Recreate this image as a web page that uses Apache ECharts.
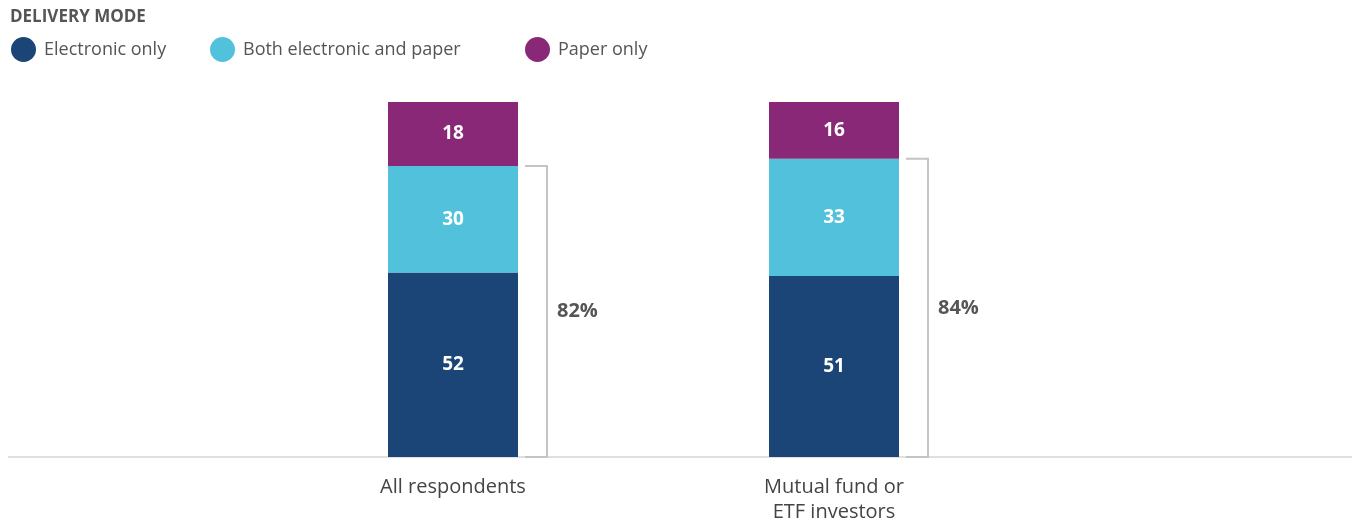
<!DOCTYPE html>
<html>
<head>
<meta charset="utf-8">
<script src="https://cdn.jsdelivr.net/npm/echarts@6/dist/echarts.min.js"></script>
<style>
  html, body { margin: 0; padding: 0; background: #fff; }
  #chart { width: 1353px; height: 523px; }
</style>
</head>
<body>
<div id="chart"></div>
<script>
var myChart = echarts.init(document.getElementById('chart'));

// data
var categories = ['All respondents', 'Mutual fund or\nETF investors'];
var electronicOnly = [52, 51];
var bothModes = [30, 33];
var paperOnly = [18, 16];
var anyElectronic = [82, 84];

var font = 'Open Sans';
var colors = ['#1b4577', '#52c1dc', '#8a2878'];

function barLabel() {
    return {
        show: true,
        color: '#fff',
        fontFamily: font,
        fontWeight: 'bold',
        fontSize: 19
    };
}

function legendAt(left, name) {
    return {
        left: left,
        top: 37,
        padding: 0,
        icon: 'circle',
        itemWidth: 25,
        itemHeight: 25,
        itemGap: 0,
        data: [name],
        textStyle: { fontFamily: font, fontSize: 18, color: '#555', padding: [0, 0, 0, 3] }
    };
}

option = {
    animation: false,
    title: {
        text: 'DELIVERY MODE',
        left: 10,
        top: 9,
        padding: 0,
        textStyle: { fontFamily: font, fontSize: 17, fontWeight: 'bold', color: '#555' }
    },
    legend: [
        legendAt(11, 'Electronic only'),
        legendAt(210, 'Both electronic and paper'),
        legendAt(525, 'Paper only')
    ],
    grid: { left: 262.5, width: 762, top: 102, height: 355, outerBoundsMode: 'none', containLabel: false },
    xAxis: {
        type: 'category',
        data: categories,
        axisLine: { show: false },
        axisTick: { show: false },
        axisLabel: {
            fontFamily: font,
            fontSize: 20,
            color: '#444',
            margin: 18,
            lineHeight: 25
        }
    },
    yAxis: {
        type: 'value',
        min: 0,
        max: 100,
        show: false
    },
    graphic: [{
        type: 'line',
        shape: { x1: 8, y1: 457, x2: 1352, y2: 457 },
        style: { stroke: '#e0e0e0', lineWidth: 2 }
    }],
    series: [
        {
            name: 'Electronic only',
            type: 'bar',
            stack: 'mode',
            barWidth: 130,
            itemStyle: { color: colors[0] },
            label: barLabel(),
            data: electronicOnly
        },
        {
            name: 'Both electronic and paper',
            type: 'bar',
            stack: 'mode',
            itemStyle: { color: colors[1] },
            label: barLabel(),
            data: bothModes
        },
        {
            name: 'Paper only',
            type: 'bar',
            stack: 'mode',
            itemStyle: { color: colors[2] },
            label: barLabel(),
            data: paperOnly
        },
        {
            name: 'bracket',
            type: 'custom',
            silent: true,
            data: anyElectronic.map(function (v, i) { return [i, v]; }),
            renderItem: function (params, api) {
                var top = api.coord([api.value(0), api.value(1)]);
                var bottom = api.coord([api.value(0), 0]);
                var cx = top[0];
                var x0 = cx + 72, x1 = cx + 94;
                return {
                    type: 'group',
                    children: [
                        {
                            type: 'polyline',
                            shape: { points: [[x0, top[1]], [x1, top[1]], [x1, bottom[1]], [x0, bottom[1]]] },
                            style: { stroke: '#c4c4c4', lineWidth: 2, fill: null }
                        },
                        {
                            type: 'text',
                            style: {
                                text: api.value(1) + '%',
                                x: x1 + 10,
                                y: (top[1] + bottom[1]) / 2,
                                verticalAlign: 'middle',
                                font: 'bold 20px ' + font,
                                fill: '#555'
                            }
                        }
                    ]
                };
            }
        }
    ]
};
myChart.setOption(option);
</script>
</body>
</html>
